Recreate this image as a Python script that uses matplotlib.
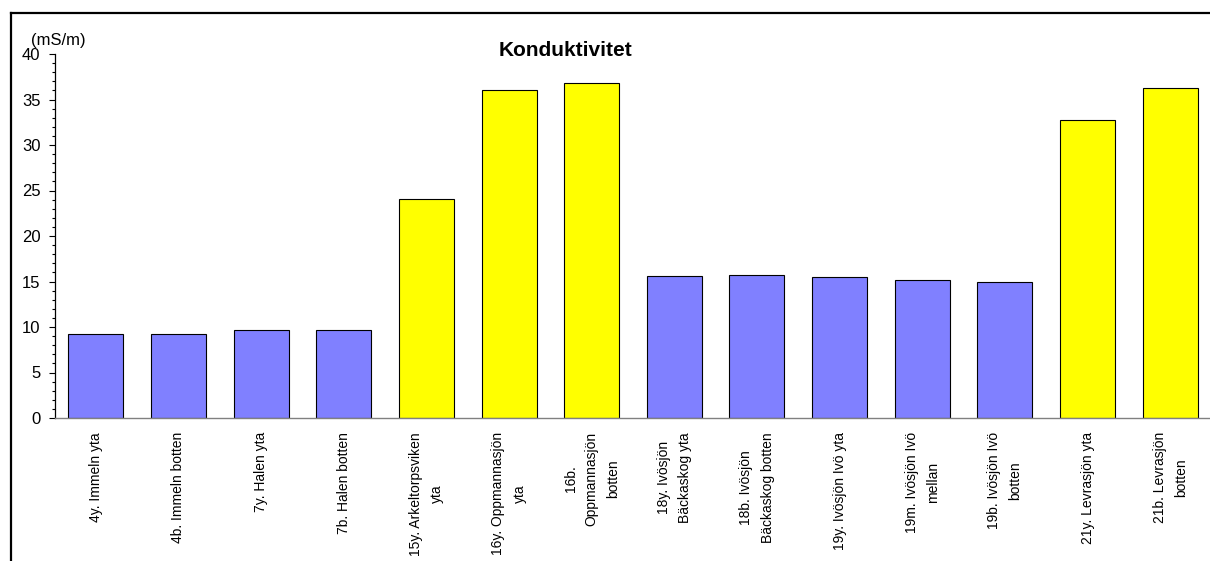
import matplotlib
matplotlib.use("Agg")
import matplotlib.pyplot as plt
from matplotlib.lines import Line2D
from matplotlib.ticker import MultipleLocator

plt.rcParams['font.family'] = ['Liberation Sans', 'DejaVu Sans']

labels = [
    "4y. Immeln yta",
    "4b. Immeln botten",
    "7y. Halen yta",
    "7b. Halen botten",
    "15y. Arkeltorpsviken\nyta",
    "16y. Oppmannasjön\nyta",
    "16b.\nOppmannasjön\nbotten",
    "18y. Ivösjön\nBäckaskog yta",
    "18b. Ivösjön\nBäckaskog botten",
    "19y. Ivösjön Ivö yta",
    "19m. Ivösjön Ivö\nmellan",
    "19b. Ivösjön Ivö\nbotten",
    "21y. Levrasjön yta",
    "21b. Levrasjön\nbotten",
]
values = [9.25, 9.25, 9.62, 9.7, 24.1, 36.03, 36.83,
          15.65, 15.68, 15.5, 15.15, 15.0, 32.8, 36.25]
groups = ["b", "b", "b", "b", "y", "y", "y",
          "b", "b", "b", "b", "b", "y", "y"]
palette = {"b": "#8080FF", "y": "#FFFF00"}

W, H = 1210, 561
fig = plt.figure(figsize=(W / 100, H / 100), dpi=100)
ax = fig.add_axes([54.5 / W, 1 - 418 / H, (1211.5 - 54.5) / W, (418 - 54) / H])

x = list(range(len(values)))
ax.bar(x, values, width=0.665, color=[palette[g] for g in groups],
       edgecolor="black", linewidth=0.8, zorder=2)

ax.set_xlim(-0.5, 13.5)
ax.set_ylim(0, 40)
ax.yaxis.set_major_locator(MultipleLocator(5))
ax.yaxis.set_minor_locator(MultipleLocator(1))
ax.tick_params(axis="y", which="major", length=4, width=0.8, labelsize=12, pad=6)
ax.tick_params(axis="y", which="minor", length=2, width=0.8)
ax.set_xticks(x)
ax.set_xticklabels(labels, rotation=90, ha="center", va="top",
                   multialignment="center", fontsize=10, linespacing=1.65)
ax.tick_params(axis="x", length=0, pad=10)

for s in ["top", "right"]:
    ax.spines[s].set_visible(False)
ax.spines["left"].set_color("black")
ax.spines["left"].set_linewidth(0.9)
ax.spines["bottom"].set_color("#808080")
ax.spines["bottom"].set_linewidth(1.0)

fig.text(565 / W, 1 - 51 / H, "Konduktivitet", ha="center", va="center",
         fontsize=15, fontweight="bold")
fig.text(31 / W, 1 - 40 / H, "(mS/m)", ha="left", va="center", fontsize=12)

# outer frame (top and left edges)
fig.add_artist(Line2D([10.5 / W, 1], [1 - 12.5 / H, 1 - 12.5 / H],
                      transform=fig.transFigure, color="black", lw=1.6))
fig.add_artist(Line2D([10.5 / W, 10.5 / W], [0, 1 - 12.5 / H],
                      transform=fig.transFigure, color="black", lw=1.6))

fig.savefig("out.png", dpi=100)
